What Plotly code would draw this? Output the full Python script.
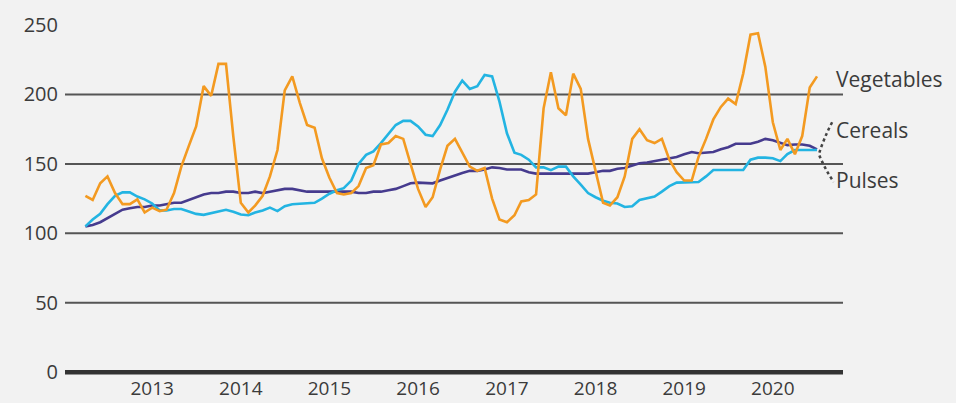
import pandas as pd
import plotly.graph_objects as go

# ---- data (monthly index values, Apr 2012 – Jul 2020) ----
start_month = "2012-04-01"

vegetables = [127, 124, 136, 141, 129, 121, 121, 124.5, 115, 118.5,
              116, 117, 129, 148, 163, 177, 206, 199, 222, 222,
              170, 122, 115, 120, 127, 141, 160, 203, 213, 194,
              178, 176, 154, 140, 129, 128, 129, 134, 147, 149,
              164, 165, 170, 168, 150, 132, 119, 126, 146, 163,
              168, 158, 148, 145, 147, 125, 110, 108, 113, 123,
              124, 128, 190, 216, 190, 185, 215, 204, 168, 145,
              122, 120, 126, 141, 168, 175, 167, 165, 168, 153,
              144, 138, 138, 155, 168, 182, 191, 197, 193, 215,
              243, 244, 220, 180, 160, 168, 157, 170, 205, 213]

cereals = [105, 106, 108, 111, 114, 117, 118, 119, 119, 120,
           120, 121, 122, 122, 124, 126, 128, 129, 129, 130,
           130, 129, 129, 130, 129, 130, 131, 132, 132, 131,
           130, 130, 130, 130, 130, 130, 130, 129, 129, 130,
           130, 131, 132, 134, 136, 136.5, 136, 136, 138, 140,
           142, 143.5, 145, 145, 146, 147.5, 147, 146, 146, 146,
           144, 143, 143, 143, 143, 143, 143, 143, 143, 144,
           145, 145, 146.5, 147, 149, 150.5, 151, 152, 153, 154,
           155, 157, 158.5, 157.7, 158, 158.5, 160.5, 162, 164.5, 164.5,
           164.5, 166, 168, 167, 165, 163.5, 164, 164, 163, 160.5]

pulses = [105, 110, 114, 121, 127, 129.5, 129.5, 126.5, 124.5, 121.5,
          116.5, 116.5, 117.5, 117.5, 115.7, 114, 113.3, 114.4, 116, 117,
          115.5, 113.5, 113, 115, 116.5, 118.5, 116, 119.5, 121, 121.5,
          121.7, 122, 125, 128.5, 131, 132.5, 138, 150, 156.5, 159,
          165, 172, 178, 181, 181, 177, 171, 170, 178, 189,
          202, 210, 204, 206, 214, 213, 195, 172, 158, 156.5,
          153, 147.5, 147.5, 145.5, 148, 148, 141, 135, 129, 126,
          123.5, 122, 121.5, 119, 119.5, 124, 125, 126.5, 130, 134,
          136.5, 136.5, 136.5, 137, 141, 145.6, 145.6, 145.6, 145.6, 145.6,
          153, 154.5, 154.5, 154, 152, 157, 160, 160, 160, 160]

year_ticks = [2013, 2014, 2015, 2016, 2017, 2018, 2019, 2020]
y_ticks = [0, 50, 100, 150, 200, 250]
grid_values = [50, 100, 150, 200]

series_names = ["Vegetables", "Cereals", "Pulses"]
label_y = [211, 174.6, 138.5]

# ---- styles ----
FONT = "Open Sans"
TXT = "#3b3b3b"
BG = "#f2f2f2"
colors = {"Vegetables": "#f39a21", "Cereals": "#463b8e", "Pulses": "#23b4e2"}

dates = pd.date_range(start_month, periods=len(vegetables), freq="MS")

fig = go.Figure()
for name, vals in [("Cereals", cereals), ("Pulses", pulses), ("Vegetables", vegetables)]:
    fig.add_trace(go.Scatter(x=dates, y=vals, mode="lines", name=name,
                             line=dict(color=colors[name], width=2.6),
                             hoverinfo="x+y+name"))

shapes = []
for g in grid_values:
    shapes.append(dict(type="line", xref="paper", yref="y", x0=0, x1=1, y0=g, y1=g,
                       line=dict(color="#555555", width=2), layer="below"))
shapes.append(dict(type="line", xref="paper", yref="y", x0=0, x1=1, y0=0, y1=0,
                   line=dict(color="#333333", width=4.5), layer="below"))
shapes.append(dict(type="path", xref="paper", yref="y",
                   path="M 0.986,180 Q 0.975,168 0.969,157 Q 0.976,147 0.988,137",
                   line=dict(color="#444444", width=2.5, dash="dot")))

annotations = []
for name, ly in zip(series_names, label_y):
    annotations.append(dict(xref="paper", yref="y", x=0.988, y=ly, text=name,
                            showarrow=False, xanchor="left", yanchor="middle",
                            font=dict(family=FONT, size=21, color=TXT)))

fig.update_layout(
    width=956, height=403, autosize=False,
    margin=dict(l=65, r=113, t=25, b=28, pad=0),
    paper_bgcolor=BG, plot_bgcolor=BG,
    showlegend=False,
    shapes=shapes,
    annotations=annotations,
    font=dict(family=FONT, size=21, color=TXT),
    xaxis=dict(type="date", range=["2012-01-08", "2020-10-16"],
               tickvals=[f"{y}-01-01" for y in year_ticks],
               ticktext=[str(y) for y in year_ticks],
               showgrid=False, zeroline=False, showline=False, automargin=False,
               ticks="", ticklabelstandoff=0,
               tickfont=dict(family=FONT, size=19, color=TXT)),
    yaxis=dict(range=[-2, 250], tickvals=y_ticks,
               ticktext=[str(v) for v in y_ticks],
               showgrid=False, zeroline=False, showline=False, automargin=False,
               ticks="outside", ticklen=2, tickcolor="rgba(0,0,0,0)",
               tickfont=dict(family=FONT, size=20, color=TXT)),
)

fig.write_html("out.html",
               config={"displayModeBar": False},
               post_script="document.body.style.margin='0';document.body.style.overflow='hidden';")
